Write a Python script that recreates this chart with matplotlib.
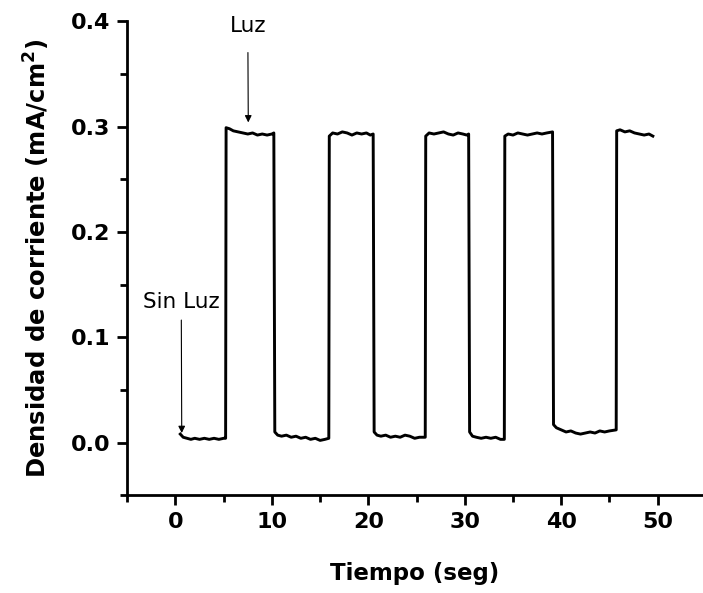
import numpy as np
import matplotlib
matplotlib.use("Agg")
import matplotlib.pyplot as plt
from matplotlib.ticker import MultipleLocator

plt.rcParams['font.family'] = ['DejaVu Sans']

# photocurrent transient (t in s, j in mA/cm2)
tiempo = [0.5, 0.8, 1.2, 1.6, 2.0, 2.5, 3.0, 3.5, 4.0, 4.5, 5.0, 5.2,
          5.25, 5.6, 6.0, 6.5, 7.0, 7.5, 8.0, 8.5, 9.0, 9.5, 10.0, 10.2,
          10.3, 10.6, 11.0, 11.5, 12.0, 12.5, 13.0, 13.5, 14.0, 14.5, 15.0, 15.5, 15.9,
          15.95, 16.3, 16.8, 17.3, 17.8, 18.3, 18.8, 19.3, 19.8, 20.2, 20.5,
          20.6, 20.9, 21.3, 21.8, 22.3, 22.8, 23.3, 23.8, 24.3, 24.8, 25.3, 25.9,
          25.95, 26.3, 26.8, 27.3, 27.8, 28.3, 28.8, 29.3, 29.8, 30.2, 30.4,
          30.5, 30.8, 31.2, 31.7, 32.2, 32.7, 33.2, 33.7, 34.1,
          34.15, 34.5, 35.0, 35.5, 36.0, 36.5, 37.0, 37.5, 38.0, 38.5, 39.1,
          39.2, 39.5, 40.0, 40.5, 41.0, 41.5, 42.0, 42.5, 43.0, 43.5, 44.0, 44.5, 45.0, 45.7,
          45.75, 46.1, 46.6, 47.1, 47.6, 48.1, 48.6, 49.1, 49.5]
densidad = [0.008, 0.005, 0.004, 0.003, 0.004, 0.003, 0.004, 0.003, 0.004, 0.003, 0.004, 0.004,
            0.299, 0.298, 0.296, 0.295, 0.294, 0.293, 0.294, 0.292, 0.293, 0.292, 0.293, 0.294,
            0.010, 0.007, 0.006, 0.007, 0.005, 0.006, 0.004, 0.005, 0.003, 0.004, 0.002, 0.003, 0.004,
            0.291, 0.294, 0.293, 0.295, 0.294, 0.292, 0.294, 0.293, 0.294, 0.292, 0.293,
            0.010, 0.007, 0.006, 0.007, 0.005, 0.006, 0.005, 0.007, 0.006, 0.004, 0.005, 0.005,
            0.291, 0.294, 0.293, 0.294, 0.295, 0.293, 0.292, 0.294, 0.293, 0.292, 0.293,
            0.010, 0.006, 0.005, 0.004, 0.005, 0.004, 0.005, 0.003, 0.003,
            0.291, 0.293, 0.292, 0.294, 0.293, 0.292, 0.293, 0.294, 0.293, 0.294, 0.295,
            0.017, 0.014, 0.012, 0.010, 0.011, 0.009, 0.008, 0.009, 0.010, 0.009, 0.011, 0.010, 0.011, 0.012,
            0.296, 0.297, 0.295, 0.296, 0.294, 0.293, 0.292, 0.293, 0.291]

fig = plt.figure(figsize=(7.03, 5.93), dpi=100)
ax = fig.add_axes([0.181, 0.165, 0.819, 0.799])

ax.plot(tiempo, densidad, color='black', linewidth=2.1)

ax.set_xlim(-5, 54.7)
ax.set_ylim(-0.05, 0.4)
ax.xaxis.set_major_locator(MultipleLocator(10))
ax.xaxis.set_minor_locator(MultipleLocator(5))
ax.yaxis.set_major_locator(MultipleLocator(0.1))
ax.yaxis.set_minor_locator(MultipleLocator(0.05))
ax.yaxis.set_major_formatter(matplotlib.ticker.FormatStrFormatter('%.1f'))

for s in ['top', 'right']:
    ax.spines[s].set_visible(False)
for s in ['left', 'bottom']:
    ax.spines[s].set_linewidth(2)
ax.tick_params(which='major', direction='out', length=7, width=2, labelsize=16, pad=5)
ax.tick_params(which='minor', direction='out', length=5, width=2)
for lab in ax.get_xticklabels() + ax.get_yticklabels():
    lab.set_fontweight('bold')

ax.set_xlabel('Tiempo (seg)', fontsize=16.5, fontweight='bold', labelpad=22)
ax.set_ylabel('Densidad de corriente (mA/cm$^\\mathbf{2}$)', fontsize=17.5, fontweight='bold', labelpad=14)

ax.annotate('Sin Luz', xy=(0.65, 0.009), xytext=(0.6, 0.128), fontsize=15.5,
            ha='center', va='baseline',
            arrowprops=dict(arrowstyle='-|>', color='black', lw=0.8, mutation_scale=10,
                            shrinkA=4, shrinkB=0))
ax.annotate('Luz', xy=(7.55, 0.304), xytext=(7.5, 0.39), fontsize=15.5,
            ha='center', va='baseline',
            arrowprops=dict(arrowstyle='-|>', color='black', lw=0.8, mutation_scale=10,
                            shrinkA=10, shrinkB=0))

fig.savefig('out.png', dpi=100)
